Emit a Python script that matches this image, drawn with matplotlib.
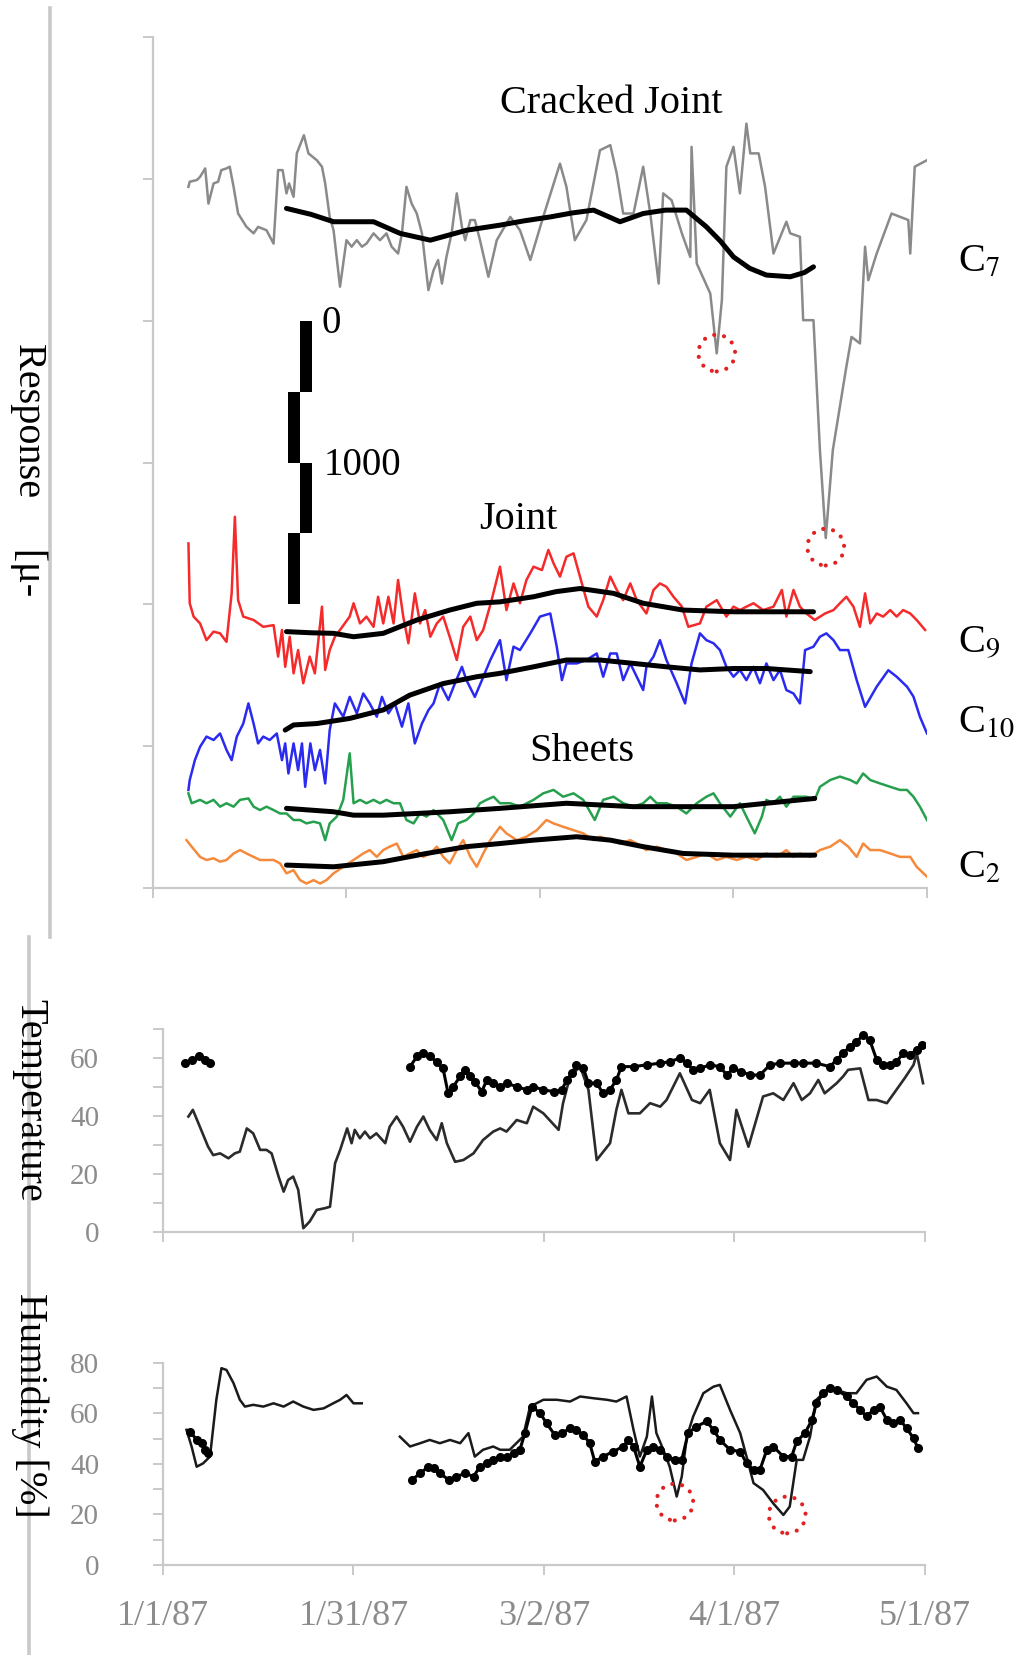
import numpy as np
import matplotlib.pyplot as plt
from matplotlib.lines import Line2D
from matplotlib.patches import Rectangle

plt.rcParams['font.family'] = ['Liberation Serif', 'DejaVu Serif']
plt.rcParams['mathtext.fontset'] = 'stix'

# x axis: days since 1/1/87
day_ticks = [0, 30, 60, 90, 120]
date_labels = ['1/1/87', '1/31/87', '3/2/87', '4/1/87', '5/1/87']

# ---- response panel (micro-strain, offset per gauge) ----
c7 = [(5.5, 2472), (5.7, 2490), (6.8, 2496), (7.3, 2507), (8.1, 2537), (8.6, 2413), (9.4, 2484),
      (10.1, 2490), (10.6, 2531), (11.4, 2537), (11.9, 2543), (12.5, 2472), (13.2, 2378), (14.5, 2331),
      (15.6, 2308), (16.3, 2331), (17.6, 2319), (18.7, 2272), (19.4, 2531), (20.1, 2531), (20.7, 2449),
      (21.1, 2484), (21.8, 2437), (22.3, 2590), (23.4, 2654), (24.1, 2590), (25.4, 2566), (26.2, 2543),
      (26.7, 2484), (27.4, 2366), (28.0, 2319), (29.0, 2120), (30.0, 2284), (30.8, 2261), (31.6, 2284),
      (32.4, 2261), (33.1, 2272), (34.2, 2308), (35.2, 2284), (36.2, 2308), (37.0, 2261), (38.0, 2237),
      (38.6, 2308), (39.3, 2472), (40.1, 2413), (40.9, 2378), (41.7, 2308), (42.7, 2108), (43.5, 2178),
      (44.2, 2214), (44.8, 2131), (45.5, 2225), (46.3, 2308), (47.1, 2449), (47.9, 2331), (48.4, 2284),
      (49.2, 2355), (49.9, 2355), (50.7, 2284), (52.0, 2155), (53.3, 2284), (55.4, 2366), (56.9, 2319),
      (58.5, 2214), (60.5, 2366), (63.1, 2554), (64.1, 2472), (65.4, 2284), (67.2, 2355), (69.3, 2601),
      (70.9, 2619), (71.9, 2519), (72.9, 2378), (74.5, 2378), (76.0, 2543), (77.1, 2378), (78.4, 2131),
      (79.1, 2449), (80.4, 2425), (82.0, 2308), (83.3, 2225), (83.5, 2613), (84.3, 2202), (86.4, 2096),
      (87.4, 1885), (88.2, 2073), (88.9, 2543), (90.0, 2613), (91.0, 2449), (92.0, 2695), (92.6, 2590),
      (93.9, 2590), (94.9, 2472), (96.2, 2237), (98.2, 2349), (98.8, 2308), (100.3, 2296), (100.8, 2002),
      (102.4, 2002), (103.4, 1544), (104.3, 1234), (105.4, 1544), (107.5, 1838), (108.3, 1943),
      (109.6, 1920), (110.4, 2261), (110.9, 2143), (112.2, 2237), (114.5, 2378), (117.1, 2355),
      (117.4, 2237), (118.1, 2543), (120.0, 2566)]
c7_smooth = [(20.7, 2396), (24.5, 2375), (28.0, 2349), (34.2, 2349), (38.3, 2308), (43.0, 2284),
             (48.6, 2319), (53.8, 2337), (57.5, 2352), (61.6, 2366), (65.0, 2380), (68.3, 2390),
             (72.4, 2349), (76.0, 2378), (79.5, 2390), (82.7, 2390), (85.8, 2331), (88.0, 2280),
             (90.0, 2225), (92.5, 2185), (95.1, 2161), (98.8, 2155), (101.0, 2170), (102.4, 2190)]

c9 = [(5.5, 1215), (5.7, 1004), (6.3, 957), (7.3, 933), (8.3, 874), (9.4, 904), (10.4, 898), (11.4, 868),
      (12.2, 1039), (12.7, 1309), (13.2, 1015), (14.0, 957), (15.6, 945), (17.1, 921), (18.7, 927),
      (19.4, 816), (20.0, 910), (20.5, 780), (21.2, 886), (21.8, 757), (22.5, 839), (23.3, 722),
      (24.3, 816), (25.1, 757), (26.2, 992), (26.7, 769), (27.4, 839), (28.2, 886), (29.0, 910),
      (30.5, 957), (31.1, 1004), (32.1, 933), (33.1, 957), (34.2, 921), (34.9, 1027), (35.7, 933),
      (36.5, 1027), (37.3, 933), (38.0, 1086), (38.8, 957), (39.6, 863), (40.6, 1039), (41.4, 933),
      (42.2, 980), (43.0, 886), (44.0, 933), (45.0, 957), (46.0, 886), (47.1, 804), (48.1, 921),
      (49.2, 957), (50.2, 874), (51.2, 910), (52.5, 1015), (53.8, 1133), (54.8, 980), (55.9, 1074),
      (56.9, 1004), (57.9, 1086), (59.0, 1133), (60.3, 1121), (61.3, 1192), (62.1, 1145), (63.1, 1098),
      (64.1, 1168), (65.2, 1180), (66.2, 1098), (67.5, 992), (68.8, 957), (69.8, 1015), (70.9, 1098),
      (71.9, 1051), (72.9, 1015), (74.0, 1074), (75.0, 1015), (76.5, 968), (77.6, 1051), (78.6, 1074),
      (79.6, 1062), (80.7, 1027), (82.0, 992), (83.0, 921), (84.8, 933), (85.8, 992), (87.4, 1015),
      (88.9, 957), (90.0, 992), (91.0, 980), (92.0, 992), (93.1, 1004), (94.6, 980), (96.2, 992),
      (97.5, 1051), (98.2, 957), (99.3, 1051), (100.3, 992), (101.3, 968), (102.6, 945), (104.2, 968),
      (105.5, 980), (106.5, 1004), (107.5, 1027), (108.6, 992), (109.6, 921), (110.4, 1039),
      (111.2, 933), (112.2, 968), (113.2, 957), (114.3, 980), (115.3, 957), (116.3, 980), (117.4, 968),
      (118.4, 945), (119.7, 910)]
c9_smooth = [(20.7, 904), (24.5, 900), (28.0, 898), (31.1, 886), (35.7, 898), (40.9, 945), (46.0, 980),
             (50.2, 1004), (53.8, 1009), (59.0, 1027), (62.5, 1045), (66.2, 1056), (71.4, 1039),
             (76.0, 1004), (82.2, 980), (90.0, 974), (95.1, 974), (102.4, 974)]

c10 = [(5.5, 346), (5.7, 381), (6.5, 451), (7.3, 498), (8.3, 534), (9.4, 522), (10.4, 545), (11.4, 487),
       (12.2, 451), (13.0, 534), (14.0, 580), (14.8, 651), (15.6, 580), (16.3, 510), (17.1, 534),
       (18.1, 522), (19.2, 545), (20.0, 451), (20.5, 510), (21.0, 404), (21.8, 510), (22.5, 416),
       (23.1, 510), (23.6, 357), (24.4, 510), (25.1, 416), (25.9, 487), (26.7, 369), (27.4, 557),
       (28.2, 651), (29.5, 604), (30.5, 674), (31.6, 616), (32.6, 686), (33.6, 651), (34.7, 604),
       (35.5, 674), (36.5, 616), (37.5, 651), (38.6, 569), (39.6, 651), (40.6, 510), (41.7, 580),
       (42.7, 627), (43.5, 651), (44.5, 721), (45.8, 663), (46.8, 721), (47.9, 780), (48.6, 733),
       (49.9, 674), (51.0, 733), (52.3, 804), (53.8, 874), (54.8, 733), (55.9, 851), (56.9, 839),
       (58.5, 898), (60.0, 957), (61.6, 968), (62.6, 851), (63.4, 733), (64.1, 792), (65.7, 792),
       (67.2, 804), (68.8, 827), (69.8, 745), (70.9, 827), (71.9, 827), (72.9, 733), (74.0, 792),
       (75.0, 745), (76.0, 698), (76.5, 780), (77.6, 816), (78.6, 874), (79.6, 804), (81.2, 722),
       (82.5, 651), (83.5, 792), (84.8, 898), (85.8, 874), (86.9, 863), (87.9, 839), (88.9, 780),
       (90.0, 745), (91.0, 769), (92.0, 733), (93.1, 780), (94.1, 722), (95.1, 792), (96.2, 733),
       (97.2, 769), (98.2, 698), (99.3, 686), (100.3, 651), (101.1, 839), (102.4, 851), (103.4, 886),
       (104.4, 898), (105.5, 874), (106.5, 839), (107.8, 839), (109.1, 733), (110.4, 639), (112.2, 710),
       (114.0, 768), (115.3, 745), (116.9, 710), (117.9, 675), (118.9, 604), (120.0, 545)]
c10_smooth = [(20.5, 557), (21.8, 575), (25.4, 580), (30.5, 598), (35.7, 628), (39.8, 680), (45.0, 721),
              (50.2, 745), (53.8, 757), (59.0, 780), (64.1, 804), (69.3, 804), (74.5, 792), (79.6, 780),
              (84.8, 769), (90.0, 774), (95.1, 774), (101.9, 763)]

sheet_green = [(5.5, 334), (6.0, 299), (7.3, 311), (8.3, 299), (9.4, 311), (10.4, 287), (11.4, 299),
               (12.5, 287), (13.5, 311), (14.8, 316), (15.6, 287), (16.6, 275), (17.6, 287), (18.7, 275),
               (19.7, 263), (20.7, 263), (21.8, 240), (22.8, 240), (23.8, 228), (24.9, 234), (25.9, 228),
               (26.7, 169), (27.4, 228), (28.5, 252), (29.5, 311), (30.5, 475), (31.1, 299), (32.1, 311),
               (33.1, 299), (34.2, 311), (35.2, 299), (36.2, 311), (37.3, 299), (38.3, 299), (39.3, 240),
               (40.4, 228), (41.4, 263), (42.4, 252), (43.5, 275), (45.0, 240), (46.3, 169), (47.3, 228),
               (48.6, 240), (49.7, 263), (50.7, 299), (51.7, 311), (52.8, 322), (53.8, 299), (55.4, 299),
               (56.9, 287), (59.0, 311), (60.5, 334), (62.1, 346), (63.6, 322), (65.2, 334), (66.7, 311),
               (68.5, 240), (69.8, 311), (71.4, 322), (72.9, 299), (74.5, 287), (76.0, 299), (77.1, 322),
               (78.1, 299), (79.6, 299), (81.2, 287), (82.7, 263), (84.3, 299), (85.8, 322), (86.9, 334),
               (87.9, 299), (89.5, 252), (91.0, 299), (92.0, 252), (93.3, 193), (94.4, 252), (95.1, 311),
               (96.2, 299), (97.2, 322), (98.2, 287), (99.3, 322), (101.3, 322), (102.6, 311), (103.4, 357),
               (105.0, 381), (106.5, 393), (108.1, 381), (109.1, 369), (110.1, 404), (111.2, 381),
               (112.7, 369), (114.3, 357), (115.8, 346), (116.9, 346), (117.9, 322), (118.9, 287),
               (120.0, 240)]
green_smooth = [(20.7, 281), (28.0, 269), (31.1, 257), (35.7, 257), (40.9, 263), (46.0, 269), (53.8, 281),
                (64.1, 299), (74.5, 287), (84.8, 287), (90.0, 287), (95.1, 299), (102.6, 316)]

c2 = [(5.2, 169), (6.0, 146), (7.3, 110), (8.3, 99), (9.4, 105), (10.4, 93), (11.4, 99), (12.5, 122),
      (13.5, 134), (14.5, 122), (15.6, 110), (16.6, 99), (17.6, 99), (18.7, 99), (19.7, 87), (20.7, 52),
      (21.8, 63), (22.8, 28), (23.8, 16), (24.9, 28), (25.9, 16), (26.9, 28), (28.0, 52), (29.5, 75),
      (31.1, 99), (32.6, 122), (33.6, 134), (34.7, 110), (35.7, 134), (36.7, 146), (37.8, 157),
      (38.8, 110), (39.8, 122), (40.9, 134), (41.9, 110), (43.0, 122), (44.0, 146), (45.0, 110),
      (46.0, 87), (47.1, 134), (48.1, 169), (49.2, 110), (50.2, 75), (51.2, 122), (52.3, 169),
      (53.8, 216), (54.8, 193), (56.4, 169), (57.9, 181), (59.5, 204), (61.0, 240), (62.1, 228),
      (63.6, 216), (65.2, 204), (66.7, 193), (68.3, 169), (69.3, 181), (70.9, 169), (72.4, 157),
      (74.0, 169), (75.0, 157), (76.5, 134), (78.1, 146), (79.6, 134), (81.2, 122), (82.7, 99),
      (84.3, 110), (85.8, 122), (87.4, 99), (88.9, 110), (90.5, 99), (92.0, 110), (93.6, 99),
      (95.1, 122), (96.7, 110), (98.2, 134), (99.3, 110), (100.3, 122), (101.9, 110), (103.4, 134),
      (105.0, 146), (106.5, 169), (107.8, 146), (109.1, 110), (110.1, 157), (111.2, 134), (112.7, 134),
      (114.3, 122), (115.8, 110), (117.4, 110), (118.4, 75), (120.0, 40)]
c2_smooth = [(20.7, 81), (28.0, 75), (35.7, 93), (42.4, 122), (48.6, 146), (53.8, 157), (59.0, 169),
             (65.7, 181), (70.9, 169), (76.0, 146), (82.2, 122), (90.0, 116), (102.6, 116)]

# points circled in the response panel
c7_circled = [(87.4, 1886), (104.3, 1202)]

# scale bar: 0..1000 micro-strain in four blocks
scale_levels = [2000, 1750, 1500, 1250, 1000]
scale_cols = [(22.8, 24.6), (20.9, 22.8)]

# ---- temperature ----
temp_line = [(4.0, 39.8), (4.7, 42.1), (5.8, 36.3), (7.1, 29.4), (7.9, 26.5), (9.0, 27.1), (10.3, 25.4),
             (11.3, 27.1), (12.1, 27.7), (13.2, 35.7), (14.2, 34.0), (15.3, 28.3), (16.3, 28.3),
             (17.1, 27.1), (18.2, 19.1), (19.0, 13.9), (19.7, 17.9), (20.5, 19.1), (21.3, 14.5),
             (22.1, 1.3), (23.1, 3.6), (24.2, 7.6), (25.5, 8.2), (26.3, 8.7), (27.1, 23.7), (27.9, 28.3),
             (29.0, 35.7), (29.7, 30.6), (30.2, 35.2), (31.0, 32.3), (31.8, 34.6), (32.6, 32.3),
             (33.6, 34.0), (35.0, 30.6), (35.7, 36.3), (36.8, 39.8), (37.8, 36.3), (38.9, 31.1),
             (40.0, 36.3), (41.0, 39.8), (42.0, 35.2), (43.1, 31.7), (43.9, 37.5), (44.7, 30.6),
             (46.0, 24.2), (47.3, 24.8), (48.9, 27.1), (50.4, 31.7), (52.0, 34.6), (53.1, 35.7),
             (54.1, 34.6), (55.7, 38.6), (57.3, 37.5), (58.3, 43.2), (59.9, 40.9), (62.3, 35.2),
             (63.0, 44.4), (64.1, 53.6), (65.7, 57.0), (67.0, 49.0), (68.3, 24.8), (70.4, 30.6),
             (71.4, 42.1), (72.2, 49.0), (73.3, 40.9), (75.1, 40.9), (76.7, 44.4), (78.3, 43.2),
             (79.3, 45.5), (81.4, 54.7), (83.3, 45.5), (84.6, 44.4), (86.1, 49.0), (87.7, 30.6),
             (89.3, 24.8), (90.3, 42.1), (92.2, 29.4), (94.5, 46.7), (96.1, 47.8), (97.7, 45.5),
             (99.3, 51.3), (100.6, 45.5), (101.9, 47.8), (103.2, 52.4), (104.2, 47.8), (106.1, 51.3),
             (107.1, 53.6), (107.9, 55.9), (109.8, 56.4), (111.1, 45.5), (112.4, 45.5), (114.0, 44.4),
             (115.5, 49.0), (116.8, 53.0), (118.2, 57.6), (118.7, 61.6), (119.7, 51.3)]
temp_dots_a = [(3.5, 58.2), (4.5, 59.3), (5.6, 60.5), (6.6, 59.3), (7.4, 58.2)]
temp_dots_b = [(38.9, 57.0), (40.0, 60.5), (41.0, 61.6), (42.0, 60.5), (43.1, 58.7), (44.1, 56.4),
               (44.9, 47.8), (45.7, 50.1), (46.8, 53.6), (47.6, 55.9), (48.3, 53.6), (49.1, 51.8),
               (50.2, 48.4), (51.0, 52.4), (52.0, 51.3), (53.1, 50.1), (54.1, 51.3), (55.7, 50.1),
               (57.3, 49.0), (58.3, 50.1), (59.9, 49.0), (61.5, 48.4), (62.8, 49.0), (63.6, 52.4),
               (64.4, 54.7), (65.1, 57.6), (66.2, 56.4), (67.0, 51.3), (68.3, 51.3), (69.3, 47.8),
               (70.4, 49.0), (71.4, 52.4), (72.2, 57.0), (74.1, 57.0), (76.2, 57.6), (78.3, 58.2),
               (79.8, 58.7), (81.4, 59.9), (82.5, 58.2), (83.5, 55.9), (84.6, 56.4), (86.1, 57.6),
               (87.7, 57.0), (88.8, 54.1), (89.8, 56.4), (91.1, 55.3), (92.4, 54.1), (94.0, 54.1),
               (95.6, 57.6), (97.2, 58.2), (99.3, 58.2), (100.8, 58.2), (102.9, 58.2), (105.0, 57.0),
               (106.1, 59.3), (107.1, 61.6), (108.2, 63.9), (109.2, 65.6), (110.3, 67.9), (111.3, 66.2),
               (112.4, 59.3), (113.4, 57.6), (114.5, 57.6), (115.5, 58.7), (116.6, 61.6), (117.6, 61.0),
               (118.7, 62.8), (119.5, 64.5)]

# ---- humidity ----
hum_line_a = [(3.7, 53.5), (4.5, 46.9), (5.3, 38.9), (6.3, 40.2), (7.4, 42.9), (8.4, 65.4), (9.2, 77.9),
              (10.0, 77.2), (11.1, 72.0), (12.1, 65.4), (12.9, 62.7), (14.2, 63.4), (15.8, 62.7),
              (17.4, 64.0), (19.0, 62.7), (20.5, 64.7), (22.1, 62.7), (23.7, 61.4), (25.3, 62.0),
              (26.8, 64.0), (27.9, 65.4), (28.9, 67.3), (30.0, 64.0), (31.3, 64.0)]
hum_line_b = [(37.3, 50.8), (38.9, 46.9), (40.5, 48.2), (42.0, 49.5), (43.6, 48.2), (45.2, 49.5),
              (46.8, 48.2), (48.1, 52.2), (49.1, 42.9), (50.4, 45.6), (52.0, 46.9), (53.1, 45.6),
              (54.6, 45.6), (56.7, 50.8), (57.8, 62.7), (59.9, 65.4), (62.0, 65.4), (64.1, 64.7),
              (65.7, 66.7), (67.8, 66.0), (69.9, 65.4), (71.4, 64.7), (73.0, 66.7), (74.1, 53.5),
              (75.1, 42.9), (76.2, 50.8), (77.0, 66.7), (77.7, 52.2), (78.8, 45.6), (79.8, 38.9),
              (80.9, 27.1), (81.7, 35.0), (82.5, 50.8), (83.5, 58.8), (85.1, 68.0), (86.7, 70.6),
              (87.7, 71.3), (89.3, 61.4), (90.9, 52.2), (91.9, 42.9), (93.0, 32.4), (94.5, 29.7),
              (96.1, 24.4), (97.7, 19.8), (98.7, 23.1), (99.8, 41.6), (100.8, 41.6), (101.9, 50.8),
              (102.9, 65.4), (104.5, 69.3), (106.1, 69.3), (107.7, 68.0), (109.2, 68.0), (110.8, 73.3),
              (112.4, 74.6), (114.0, 70.6), (115.5, 69.3), (117.1, 64.0), (118.2, 60.1), (118.9, 60.1)]
hum_dots_a = [(4.3, 52.8), (5.3, 49.5), (6.1, 48.2), (6.6, 45.6), (7.1, 44.2)]
hum_dots_b = [(39.2, 33.7), (40.5, 36.3), (41.8, 38.9), (42.6, 38.3), (43.6, 36.3), (45.0, 33.7),
              (46.2, 35.0), (47.6, 36.3), (48.9, 35.0), (49.9, 38.9), (51.0, 40.3), (52.0, 41.6),
              (53.1, 42.9), (54.1, 42.9), (55.2, 44.2), (56.2, 45.6), (57.0, 52.2), (58.1, 62.7),
              (59.4, 60.1), (60.4, 56.1), (61.7, 51.5), (62.8, 52.2), (64.1, 54.1), (65.1, 53.5),
              (66.2, 51.5), (67.2, 48.2), (68.0, 40.9), (69.3, 42.9), (70.9, 44.9), (72.5, 46.9),
              (73.3, 49.5), (74.1, 46.9), (75.1, 38.9), (76.2, 45.6), (77.2, 46.9), (78.3, 45.6),
              (79.3, 42.9), (80.6, 41.6), (81.7, 41.6), (82.7, 52.2), (84.0, 54.8), (85.6, 56.8),
              (86.7, 53.5), (87.7, 49.5), (89.3, 45.6), (90.9, 44.9), (91.9, 40.3), (93.0, 37.6),
              (94.0, 37.6), (95.1, 45.6), (96.1, 46.9), (97.7, 42.9), (99.0, 42.9), (99.8, 48.9),
              (101.1, 52.2), (102.2, 57.4), (102.9, 64.0), (104.0, 68.0), (105.0, 70.0), (106.1, 69.3),
              (107.7, 66.7), (108.7, 64.0), (109.8, 61.4), (110.8, 58.8), (111.9, 61.4), (112.9, 62.7),
              (114.0, 57.4), (115.0, 56.1), (116.1, 57.4), (117.1, 54.1), (118.2, 50.2), (118.9, 46.2)]
hum_circled = [(80.6, 24.9), (98.3, 19.8)]

axis_grey = '#c9c9c9'
label_grey = '#8c8c8c'
col_c7 = '#8a8a8a'
col_c9 = '#f52a2a'
col_c10 = '#2a2af0'
col_green = '#27a04e'
col_c2 = '#f58a3c'
circ_red = '#e02222'


def xy(pairs):
    a = np.array(pairs, dtype=float)
    return a[:, 0], a[:, 1]


def style(ax):
    for s in ['top', 'right']:
        ax.spines[s].set_visible(False)
    for s in ['left', 'bottom']:
        ax.spines[s].set_color(axis_grey)
        ax.spines[s].set_linewidth(1.6)
    ax.tick_params(which='both', color=axis_grey, width=1.4, length=7,
                   labelcolor=label_grey)
    ax.set_xlim(0, 120)
    ax.set_xticks(day_ticks)


def dotted_circles(ax, pts):
    px, py = xy(pts)
    sc = ax.scatter(px, py, s=700, facecolors='none', edgecolors=circ_red, linewidths=3.0,
                    linestyles=(0, (0.01, 2.4)), zorder=5)
    sc.set_capstyle('round')


fig = plt.figure(figsize=(10.15, 16.55), dpi=100)
ax1 = fig.add_axes([0.1507, 0.4634, 0.7626, 0.5142])
ax2 = fig.add_axes([0.1606, 0.2556, 0.7507, 0.1227])
ax3 = fig.add_axes([0.1606, 0.0544, 0.7507, 0.1221])

# response panel
style(ax1)
ax1.set_ylim(0, 3000)
ax1.set_yticks(np.arange(0, 3001, 500))
ax1.set_yticklabels([])
ax1.set_xticklabels([])

for data, col in [(c7, col_c7), (c9, col_c9), (c10, col_c10), (sheet_green, col_green), (c2, col_c2)]:
    x, y = xy(data)
    ax1.plot(x, y, color=col, lw=1.8, zorder=2)
for data in [c7_smooth, c9_smooth, c10_smooth, green_smooth, c2_smooth]:
    x, y = xy(data)
    ax1.plot(x, y, color='black', lw=3.6, solid_capstyle='round', solid_joinstyle='round', zorder=3)

dotted_circles(ax1, c7_circled)

for i in range(len(scale_levels) - 1):
    x0, x1 = scale_cols[i % 2]
    lo, hi = scale_levels[i + 1], scale_levels[i]
    ax1.add_patch(Rectangle((x0, lo), x1 - x0, hi - lo, color='black', lw=0, zorder=4))
ax1.text(26.2, 1992, '0', fontsize=28, ha='left', va='center')
ax1.text(26.4, 1488, '1000', fontsize=28, ha='left', va='center')

ax1.text(53.8, 2767, 'Cracked Joint', fontsize=29, ha='left', va='center')
ax1.text(56.6, 1301, 'Joint', fontsize=29, ha='center', va='center')
ax1.text(66.5, 483, 'Sheets', fontsize=29, ha='center', va='center')
for lab, yv in [(r'C$_{7}$', 2207), (r'C$_{9}$', 867), (r'C$_{10}$', 585), (r'C$_{2}$', 70)]:
    ax1.text(124.8, yv, lab, fontsize=29, ha='left', va='center')

# temperature panel
style(ax2)
ax2.set_ylim(0, 70)
ax2.set_yticks([0, 20, 40, 60])
ax2.set_yticks([10, 30, 50, 70], minor=True)
ax2.set_xticklabels([])
ax2.tick_params(axis='y', labelsize=21, pad=39)
x, y = xy(temp_line)
ax2.plot(x, y, color='#2b2b2b', lw=1.9)
for data in [temp_dots_a, temp_dots_b]:
    x, y = xy(data)
    ax2.plot(x, y, color='black', lw=2.2, marker='o', ms=5.5)

# humidity panel
style(ax3)
ax3.set_ylim(0, 80)
ax3.set_yticks([0, 20, 40, 60, 80])
ax3.set_yticks([10, 30, 50, 70], minor=True)
ax3.set_xticklabels(date_labels)
ax3.tick_params(axis='y', labelsize=21, pad=39)
ax3.tick_params(axis='x', labelsize=26, pad=18)
for data in [hum_line_a, hum_line_b]:
    x, y = xy(data)
    ax3.plot(x, y, color='#1a1a1a', lw=1.8)
for data in [hum_dots_a, hum_dots_b]:
    x, y = xy(data)
    ax3.plot(x, y, color='black', lw=2.2, marker='o', ms=5.5)
dotted_circles(ax3, hum_circled)

# left frame remnants and rotated axis titles
fig.add_artist(Line2D([0.0493, 0.0493], [0.995, 0.4338], color=axis_grey, lw=2.6))
fig.add_artist(Line2D([0.0286, 0.0286], [0.4338, 0.0], color=axis_grey, lw=2.6))
fig.text(0.0286, 1 - 470 / 1655, 'Response     [μ-', rotation=270, ha='center', va='center',
         fontsize=29, zorder=5)
fig.text(0.0296, 1 - 1100 / 1655, 'Temperature', rotation=270, ha='center', va='center',
         fontsize=29, zorder=5)
fig.text(0.0296, 1 - 1405 / 1655, 'Humidity [%]', rotation=270, ha='center', va='center',
         fontsize=29, zorder=5)

fig.savefig('out.png', dpi=100)
